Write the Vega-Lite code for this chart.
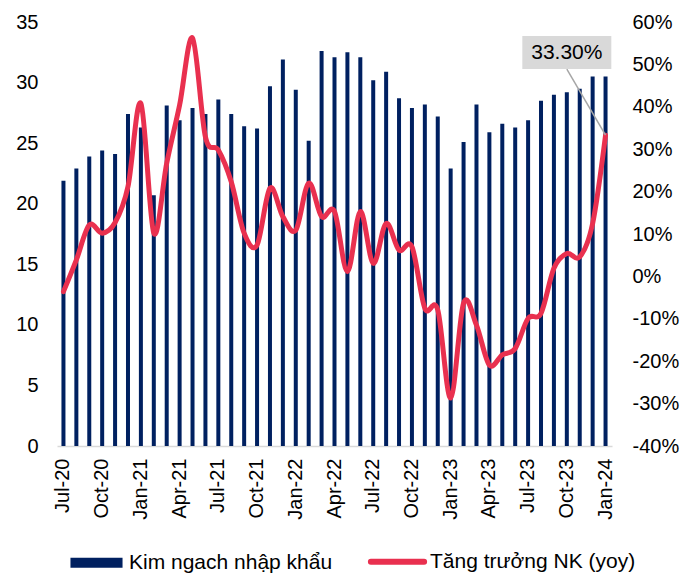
{
  "$schema": "https://vega.github.io/schema/vega-lite/v6.json",
  "width": 555,
  "height": 424,
  "autosize": {"type": "none"},
  "padding": {"left": 57, "top": 22, "right": 85, "bottom": 131},
  "background": "white",
  "config": {
    "view": {"stroke": null},
    "font": "Liberation Sans",
    "axis": {"labelFont": "Liberation Sans", "labelFontSize": 20, "labelColor": "#000000", "grid": false, "ticks": false, "tickSize": 0, "title": null}
  },
  "datasets": {
    "main": [
      {"m": "Jul-20", "v": 21.9, "g": -3.6},
      {"m": "Aug-20", "v": 22.9, "g": 3.9},
      {"m": "Sep-20", "v": 23.9, "g": 12.1},
      {"m": "Oct-20", "v": 24.4, "g": 10.2},
      {"m": "Nov-20", "v": 24.1, "g": 12.7},
      {"m": "Dec-20", "v": 27.4, "g": 21.2},
      {"m": "Jan-21", "v": 26.3, "g": 40.8},
      {"m": "Feb-21", "v": 20.7, "g": 10.2},
      {"m": "Mar-21", "v": 28.1, "g": 26.7},
      {"m": "Apr-21", "v": 26.9, "g": 40.4},
      {"m": "May-21", "v": 27.9, "g": 56.2},
      {"m": "Jun-21", "v": 27.4, "g": 32.9},
      {"m": "Jul-21", "v": 28.6, "g": 29.8},
      {"m": "Aug-21", "v": 27.4, "g": 22.3},
      {"m": "Sep-21", "v": 26.4, "g": 10.2},
      {"m": "Oct-21", "v": 26.2, "g": 7.4},
      {"m": "Nov-21", "v": 29.7, "g": 20.8},
      {"m": "Dec-21", "v": 31.9, "g": 14.1},
      {"m": "Jan-22", "v": 29.4, "g": 10.9},
      {"m": "Feb-22", "v": 25.2, "g": 22.0},
      {"m": "Mar-22", "v": 32.6, "g": 14.1},
      {"m": "Apr-22", "v": 32.1, "g": 15.3},
      {"m": "May-22", "v": 32.5, "g": 1.1},
      {"m": "Jun-22", "v": 32.1, "g": 15.3},
      {"m": "Jul-22", "v": 30.2, "g": 3.1},
      {"m": "Aug-22", "v": 30.9, "g": 12.5},
      {"m": "Sep-22", "v": 28.7, "g": 6.2},
      {"m": "Oct-22", "v": 27.9, "g": 7.0},
      {"m": "Nov-22", "v": 28.2, "g": -7.5},
      {"m": "Dec-22", "v": 27.2, "g": -7.9},
      {"m": "Jan-23", "v": 22.9, "g": -28.7},
      {"m": "Feb-23", "v": 25.1, "g": -6.3},
      {"m": "Mar-23", "v": 28.2, "g": -11.5},
      {"m": "Apr-23", "v": 25.9, "g": -20.9},
      {"m": "May-23", "v": 26.6, "g": -18.5},
      {"m": "Jun-23", "v": 26.3, "g": -17.0},
      {"m": "Jul-23", "v": 26.9, "g": -9.9},
      {"m": "Aug-23", "v": 28.5, "g": -8.7},
      {"m": "Sep-23", "v": 29.0, "g": 1.9},
      {"m": "Oct-23", "v": 29.2, "g": 5.4},
      {"m": "Nov-23", "v": 29.5, "g": 4.6},
      {"m": "Dec-23", "v": 30.5, "g": 12.5},
      {"m": "Jan-24", "v": 30.5, "g": 33.3}
    ],
    "leader": [
      {"m": "Oct-23", "g": 48.9},
      {"m": "Jan-24", "g": 33.3}
    ],
    "label": [
      {"m": "Oct-23", "g": 52.8, "t": "33.30%"}
    ]
  },
  "encoding": {
    "x": {
      "field": "m",
      "type": "nominal",
      "sort": null,
      "scale": {"paddingInner": 0, "paddingOuter": 0},
      "axis": {
        "values": ["Jul-20", "Oct-20", "Jan-21", "Apr-21", "Jul-21", "Oct-21", "Jan-22", "Apr-22", "Jul-22", "Oct-22", "Jan-23", "Apr-23", "Jul-23", "Oct-23", "Jan-24"],
        "labelAngle": -90,
        "labelAlign": "right",
        "labelBaseline": "middle",
        "labelPadding": 12,
        "domain": true,
        "domainColor": "#d9d9d9",
        "domainWidth": 1.5
      }
    }
  },
  "layer": [
    {
      "data": {"name": "main"},
      "mark": {"type": "bar", "size": 4},
      "encoding": {
        "y": {
          "field": "v",
          "type": "quantitative",
          "scale": {"domain": [0, 35], "nice": false, "zero": true},
          "axis": {"values": [0, 5, 10, 15, 20, 25, 30, 35], "domain": false, "labelPadding": 19, "orient": "left"}
        },
        "color": {
          "datum": "Kim ngach nhập khẩu",
          "type": "nominal",
          "scale": {"domain": ["Kim ngach nhập khẩu", "Tăng trưởng NK (yoy)"], "range": ["#002060", "#e9304f"]},
          "legend": {
            "orient": "none",
            "legendX": 29,
            "legendY": 529,
            "direction": "horizontal",
            "title": null,
            "padding": 0,
            "symbolSize": 3136,
            "labelOffset": 22,
            "labelLimit": 500,
            "columnPadding": 25,
            "labelFont": "Liberation Sans",
            "labelFontSize": 21,
            "labelColor": "#000000",
            "encode": {
              "symbols": {
                "update": {
                  "shape": {"signal": "datum.value === 'Kim ngach nhập khẩu' ? 'M-0.93,-0.18L0.93,-0.18L0.93,0.18L-0.93,0.18Z' : 'M-0.95,0L0.95,0'"},
                  "fill": {"signal": "datum.value === 'Kim ngach nhập khẩu' ? '#002060' : 'transparent'"},
                  "stroke": {"signal": "datum.value === 'Kim ngach nhập khẩu' ? 'transparent' : '#e9304f'"},
                  "strokeWidth": {"signal": "datum.value === 'Kim ngach nhập khẩu' ? 0 : 6"},
                  "strokeCap": {"value": "round"},
                  "opacity": {"value": 1}
                }
              }
            }
          }
        }
      }
    },
    {
      "encoding": {
        "y": {
          "field": "g",
          "type": "quantitative",
          "scale": {"domain": [-40, 60], "nice": false, "zero": false},
          "axis": {"orient": "right", "values": [-40, -30, -20, -10, 0, 10, 20, 30, 40, 50, 60], "labelExpr": "datum.value + '%'", "domain": false, "labelPadding": 20}
        }
      },
      "layer": [
        {
          "data": {"name": "main"},
          "mark": {"type": "line", "color": "#e9304f", "strokeWidth": 5, "interpolate": "cardinal", "strokeCap": "round", "strokeJoin": "round"}
        },
        {
          "data": {"name": "leader"},
          "mark": {"type": "line", "color": "#a6a6a6", "strokeWidth": 1.5, "interpolate": "linear"}
        },
        {
          "data": {"name": "label"},
          "mark": {"type": "point", "shape": "M-1,-0.371L1,-0.371L1,0.371L-1,0.371Z", "size": 7921, "filled": true, "color": "#d9d9d9", "opacity": 1, "strokeWidth": 0}
        },
        {
          "data": {"name": "label"},
          "mark": {"type": "text", "font": "Liberation Sans", "fontSize": 21, "color": "#000000", "align": "center", "baseline": "middle"},
          "encoding": {"text": {"field": "t"}}
        }
      ]
    }
  ],
  "resolve": {"scale": {"y": "independent"}}
}
